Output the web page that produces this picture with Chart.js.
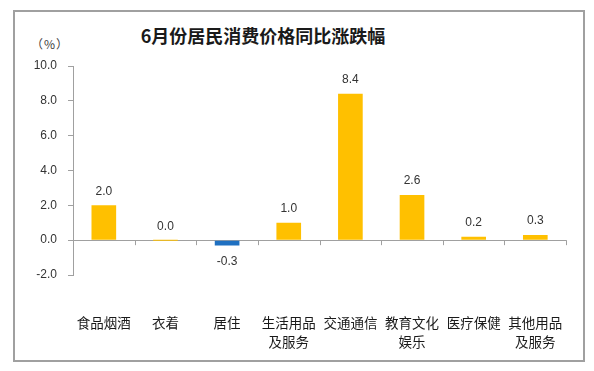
<!DOCTYPE html>
<html>
<head>
<meta charset="utf-8">
<script src="https://cdn.jsdelivr.net/npm/chart.js@4/dist/chart.umd.min.js"></script>
<style>
  body { margin: 0; background: #fff; }
  #wrap { position: relative; width: 594px; height: 371px; }
  #frame { position: absolute; left: 13px; top: 10px; width: 568px; height: 348px; border: 2px solid #a0a0a0; }
  #title { position: absolute; left: 120px; width: 286px; top: 22px; text-align: center;
           font: bold 18px "Noto Sans CJK SC", sans-serif; color: #1a1a1a; }
  #unit { position: absolute; left: 31px; top: 35px; font: 12px "Noto Sans CJK SC", sans-serif; color: #404040; letter-spacing: 1px; }
  canvas { position: absolute; left: 0; top: 0; }
</style>
</head>
<body>
<div id="wrap">
  <div id="frame"></div>
  <div id="title">6月份居民消费价格同比涨跌幅</div>
  <div id="unit">（%）</div>
  <canvas id="chart" width="594" height="371"></canvas>
</div>
<script>
const categories = ["食品烟酒", "衣着", "居住", ["生活用品", "及服务"], "交通通信", ["教育文化", "娱乐"], "医疗保健", ["其他用品", "及服务"]];
const changes = [2.0, 0.0, -0.3, 1.0, 8.4, 2.6, 0.2, 0.3];
const yMin = -2, yMax = 10, yStep = 2;

const axisGray = "#a0a0a0";
const textGray = "#333333";

const barColors = changes.map(v => v < 0 ? "#1f70c1" : "#ffc000");

// value labels over / under each bar
const valueLabels = {
  id: "valueLabels",
  afterDatasetsDraw(chart) {
    const ctx = chart.ctx;
    const meta = chart.getDatasetMeta(0);
    ctx.save();
    ctx.font = "12px 'Liberation Sans', sans-serif";
    ctx.fillStyle = textGray;
    ctx.textAlign = "center";
    ctx.textBaseline = "middle";
    meta.data.forEach((bar, i) => {
      const v = changes[i];
      const y = v < 0 ? bar.y + 16 : bar.y - 14;
      ctx.fillText(v.toFixed(1), bar.x, y);
    });
    ctx.restore();
  }
};

// category tick marks hanging under the zero line
const zeroTicks = {
  id: "zeroTicks",
  afterDatasetsDraw(chart) {
    const ctx = chart.ctx;
    const xs = chart.scales.x, ys = chart.scales.y;
    const y0 = ys.getPixelForValue(0);
    ctx.save();
    ctx.strokeStyle = axisGray;
    ctx.lineWidth = 1;
    ctx.beginPath();
    for (let i = 0; i <= categories.length; i++) {
      const x = Math.round(xs.getPixelForValue(i - 0.5)) + 0.5;
      ctx.moveTo(x, y0);
      ctx.lineTo(x, y0 + 5);
    }
    ctx.stroke();
    ctx.restore();
  }
};

new Chart(document.getElementById("chart"), {
  type: "bar",
  data: {
    labels: categories,
    datasets: [{
      data: changes,
      backgroundColor: barColors,
      barPercentage: 0.4,
      categoryPercentage: 1,
      minBarLength: 1
    }]
  },
  options: {
    responsive: false,
    animation: false,
    devicePixelRatio: 1,
    layout: { padding: { left: 13, right: 27, top: 66, bottom: 6 } },
    plugins: { legend: { display: false }, tooltip: { enabled: false } },
    scales: {
      x: {
        grid: { display: false },
        border: { display: false },
        ticks: {
          color: "#1a1a1a",
          font: { family: "'Noto Sans CJK SC', sans-serif", size: 13.5, lineHeight: 1.45 },
          padding: 30,
          maxRotation: 0,
          autoSkip: false
        },
        afterFit(scale) { scale.height = 90; }
      },
      y: {
        min: yMin,
        max: yMax,
        ticks: {
          stepSize: yStep,
          color: textGray,
          padding: 11,
          font: { family: "'Liberation Sans', sans-serif", size: 12 },
          callback: v => v.toFixed(1)
        },
        grid: {
          color: ctx => ctx.tick && ctx.tick.value === 0 ? axisGray : "transparent",
          tickColor: axisGray,
          tickLength: 5
        },
        border: { color: axisGray },
        afterFit(scale) { scale.width = 60; }
      }
    }
  },
  plugins: [valueLabels, zeroTicks]
});
</script>
</body>
</html>
